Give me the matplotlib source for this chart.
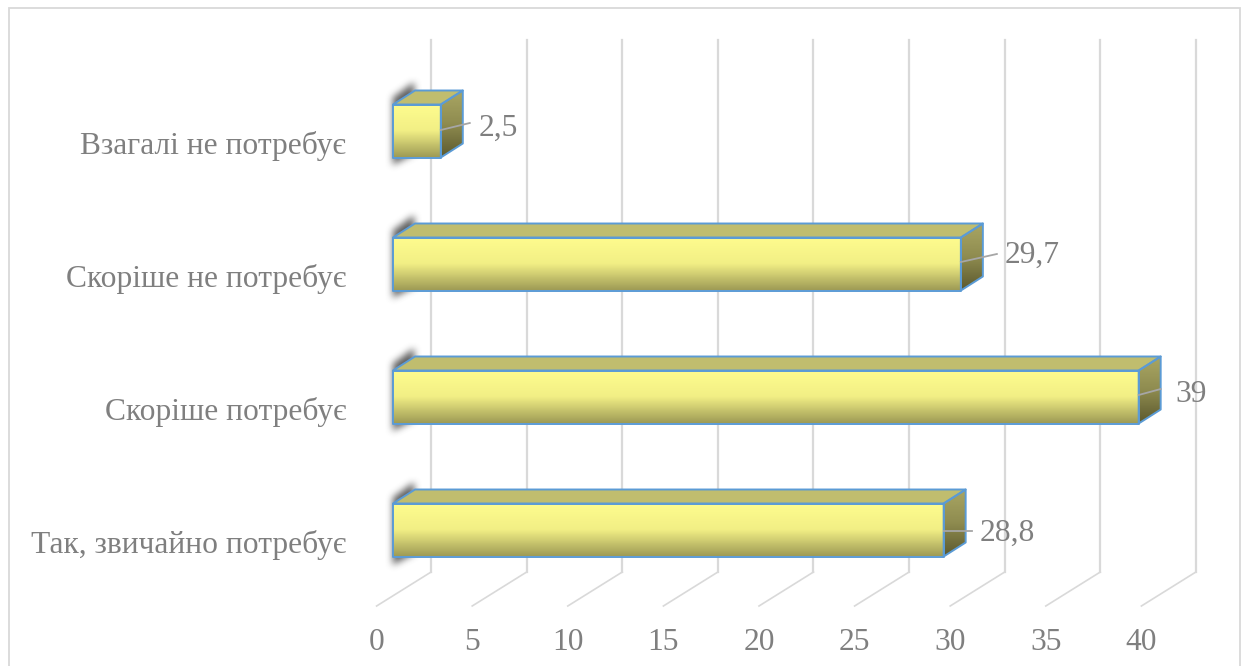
import numpy as np
import matplotlib
matplotlib.use("Agg")
import matplotlib.pyplot as plt
from matplotlib.colors import LinearSegmentedColormap
from matplotlib.patches import Polygon, Rectangle
from matplotlib.path import Path

categories = ["Так, звичайно потребує", "Скоріше потребує", "Скоріше не потребує", "Взагалі не потребує"]
values = [28.8, 39, 29.7, 2.5]
xticks = [0, 5, 10, 15, 20, 25, 30, 35, 40]

W, H = 1248, 666
PX_X, PX_Y = 19.12, 133.0
AX_L, AX_R, AX_T, AX_B = 360, 1230, 20, 610
X0_PX, Y0_PX = 376.6, 541.5

# pixel helpers for the 3D offsets (styling only)
dx = lambda p: p / PX_X
dy = lambda p: p / PX_Y

fig = plt.figure(figsize=(W / 100, H / 100), dpi=100, facecolor="white")
ax = fig.add_axes([AX_L / W, 1 - AX_B / H, (AX_R - AX_L) / W, (AX_B - AX_T) / H])
xlim = ((AX_L - X0_PX) / PX_X, (AX_R - X0_PX) / PX_X)
ylim = ((Y0_PX - AX_B) / PX_Y, (Y0_PX - AX_T) / PX_Y)

FONT = "Liberation Serif"
FS = 22.7
TXT = "#7f7f7f"
GRID = "#d9d9d9"
EDGE = "#5b9bd5"

fig.patches.append(Rectangle((9 / W, -0.01), 1231 / W, 1 - 8 / H + 0.01, transform=fig.transFigure,
                             fill=False, ec=GRID, lw=1.3))

# gridlines: floor + back wall
for v in xticks:
    ax.plot([v, v + dx(54.5)], [(Y0_PX - 606) / PX_Y, (Y0_PX - 572) / PX_Y], color=GRID, lw=1.2, zorder=1, clip_on=False)
    ax.plot([v + dx(54.5)] * 2, [(Y0_PX - 572) / PX_Y, (Y0_PX - 40) / PX_Y], color=GRID, lw=1.6, zorder=1, clip_on=False)

front_cm = LinearSegmentedColormap.from_list("front", ["#fefc8e", "#f2ef85", "#9f9c56"])
side_cm = LinearSegmentedColormap.from_list("side", ["#a9a663", "#8f8c50", "#5d5a2e"])


def grad(poly_pts, cmap, z):
    xs, ys = zip(*poly_pts)
    g = np.linspace(0, 1, 64).reshape(-1, 1)
    im = ax.imshow(g, cmap=cmap, aspect="auto", extent=(min(xs), max(xs), min(ys), max(ys)), zorder=z, vmin=0, vmax=1)
    clip = Polygon(poly_pts, closed=True, transform=ax.transData)
    im.set_clip_path(clip)


def shadow(x0, yb, yt):
    # soft shadow behind the start of each bar, built in pixel units
    px = np.arange(-20, 50)
    py = np.arange(-50, 100)
    gx, gy = np.meshgrid(px, py)
    h = (yt - yb) * PX_Y
    path = Path([(0, -7), (21, -22), (21, h - 3), (0, h + 8)])
    mask = path.contains_points(np.c_[gx.ravel(), gy.ravel()]).reshape(gx.shape).astype(float)
    k = np.ones(7) / 7
    for _ in range(3):
        mask = np.apply_along_axis(lambda r: np.convolve(r, k, "same"), 0, mask)
        mask = np.apply_along_axis(lambda r: np.convolve(r, k, "same"), 1, mask)
    rgba = np.zeros(mask.shape + (4,))
    rgba[..., :3] = 0.3
    rgba[..., 3] = mask * 0.9
    ax.imshow(rgba, aspect="auto", zorder=2,
              extent=(x0 + dx(px[0]), x0 + dx(px[-1]), yt - dy(py[-1]), yt - dy(py[0])), origin="upper")


bar_h = dy(53)
off_x, off_y = dx(16.4), dy(11.5)
dep_x, dep_y = dx(22), dy(14)

for i, v in enumerate(values):
    x0 = off_x
    x1 = v + off_x
    yc = i + off_y
    yb, yt = yc - bar_h / 2, yc + bar_h / 2
    shadow(x0, yb, yt)
    front = [(x0, yb), (x1, yb), (x1, yt), (x0, yt)]
    top = [(x0, yt), (x1, yt), (x1 + dep_x, yt + dep_y), (x0 + dep_x, yt + dep_y)]
    side = [(x1, yb), (x1 + dep_x, yb + dep_y), (x1 + dep_x, yt + dep_y), (x1, yt)]
    grad(front, front_cm, 3)
    grad(side, side_cm, 3)
    ax.add_patch(Polygon(top, closed=True, fc="#c0bd6e", ec="none", zorder=3))
    for pts in (front, top, side):
        ax.add_patch(Polygon(pts, closed=True, fill=False, ec=EDGE, lw=1.4, zorder=4, joinstyle="round"))

# leaders and data labels
lead_px = [(28, 0), (22, 6), (36, 8), (29, 7)]
lab_off = [(8, -2), (15, -5), (8, -1), (9, -5)]
lead_start = [-1, 2, 2, 1]
for i, v in enumerate(values):
    xs = v + off_x
    ys = i + off_y + dy(lead_start[i])
    lx, ly = lead_px[i]
    xe, ye = xs + dx(lx), ys + dy(ly)
    ax.plot([xs, xe], [ys, ye], color="#a6a6a6", lw=1.3, zorder=5, clip_on=False)
    ax.annotate(f"{v:g}".replace(".", ","), xy=(xe, ye), xytext=lab_off[i],
                textcoords="offset pixels", ha="left", va="center", color=TXT,
                fontsize=FS, family=FONT, zorder=6, annotation_clip=False)

ax.set_xlim(xlim)
ax.set_ylim(ylim)
ax.set_xticks(xticks)
ax.set_yticks(range(len(categories)), categories)
ax.tick_params(axis="both", length=0, labelcolor=TXT, labelsize=FS)
ax.tick_params(axis="x", pad=13)
ax.tick_params(axis="y", pad=10)
for lab in ax.get_xticklabels() + ax.get_yticklabels():
    lab.set_family(FONT)
for s in ax.spines.values():
    s.set_visible(False)
ax.patch.set_visible(False)

fig.savefig("out.png", dpi=100)
